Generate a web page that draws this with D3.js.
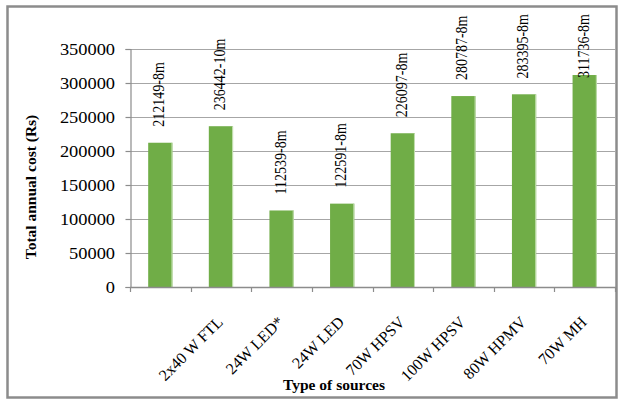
<!DOCTYPE html>
<html>
<head>
<meta charset="utf-8">
<script src="https://cdn.jsdelivr.net/npm/d3@7/dist/d3.min.js"></script>
<style>
  html, body { margin: 0; padding: 0; background: #fff; }
  svg { display: block; }
  text { font-family: "Liberation Serif", "Times New Roman", serif; fill: #000; }
</style>
</head>
<body>
<svg id="chart" width="619" height="400"></svg>
<script>
// Category names shown under the axis (first slot has no name)
const categories = ["", "2x40 W FTL", "24W LED*", "24W LED", "70W HPSV", "100W HPSV", "80W HPMV", "70W MH"];
// Total annual cost per source (Rs)
const costs = [212149, 236442, 112539, 122591, 226097, 280787, 283395, 311736];
// Label text written above each bar
const barLabels = ["212149-8m", "236442-10m", "112539-8m", "122591-8m", "226097-8m", "280787-8m", "283395-8m", "311736-8m"];
const yTicks = [0, 50000, 100000, 150000, 200000, 250000, 300000, 350000];

const svg = d3.select("#chart");
const plot = { left: 130, right: 615, top: 49, bottom: 287 };

// outer frame
svg.append("rect")
  .attr("x", 7.5).attr("y", 6.5).attr("width", 609).attr("height", 391)
  .attr("fill", "#fff").attr("stroke", "#8c8c8c").attr("stroke-width", 2.5);

const x = d3.scaleBand().domain(d3.range(costs.length))
  .range([plot.left, plot.right]).paddingInner(0.6).paddingOuter(0.3);
const xb = d3.scaleBand().domain(d3.range(costs.length)).range([plot.left, plot.right]);
const y = d3.scaleLinear().domain([0, 350000]).range([plot.bottom, plot.top]);

// horizontal gridlines
svg.append("g").selectAll("line").data(yTicks.slice(1)).join("line")
  .attr("x1", plot.left).attr("x2", plot.right)
  .attr("y1", d => Math.round(y(d)) + 0.5).attr("y2", d => Math.round(y(d)) + 0.5)
  .attr("stroke", "#a6a6a6").attr("stroke-width", 1.2);

// y axis
const yAxis = svg.append("g").attr("transform", `translate(${plot.left + 0.5},0)`)
  .call(d3.axisLeft(y).tickValues(yTicks).tickSize(5).tickPadding(10).tickFormat(d3.format("d")));
yAxis.select(".domain").attr("stroke", "#8c8c8c").attr("stroke-width", 1.2);
yAxis.selectAll(".tick line").attr("stroke", "#8c8c8c").attr("stroke-width", 1.2);
yAxis.selectAll(".tick text").attr("font-size", 16).attr("font-family", "Liberation Serif")
  .attr("transform", "scale(1.15,1)").attr("x", -12 / 1.15 - 3);

// bars with a light right edge
const bars = svg.append("g");
bars.selectAll("rect").data(costs).join("rect")
  .attr("x", (d, i) => x(i)).attr("width", x.bandwidth())
  .attr("y", d => y(d)).attr("height", d => y(0) - y(d))
  .attr("fill", "#70ad47");
bars.selectAll("line").data(costs).join("line")
  .attr("x1", (d, i) => x(i) + x.bandwidth() - 0.5).attr("x2", (d, i) => x(i) + x.bandwidth() - 0.5)
  .attr("y1", d => y(d)).attr("y2", y(0))
  .attr("stroke", "#c5e0b3").attr("stroke-width", 1);

// x axis line and boundary ticks
const xAxisG = svg.append("g");
xAxisG.append("line").attr("x1", plot.left).attr("x2", plot.right + 1)
  .attr("y1", plot.bottom + 0.5).attr("y2", plot.bottom + 0.5)
  .attr("stroke", "#8c8c8c").attr("stroke-width", 1.4);
xAxisG.selectAll("line.tk").data(d3.range(costs.length + 1)).join("line").attr("class", "tk")
  .attr("x1", i => Math.round(plot.left + i * xb.bandwidth()) + 0.5)
  .attr("x2", i => Math.round(plot.left + i * xb.bandwidth()) + 0.5)
  .attr("y1", plot.bottom).attr("y2", plot.bottom + 5)
  .attr("stroke", "#8c8c8c").attr("stroke-width", 1.2);

// category labels, rotated
svg.append("g").selectAll("text").data(categories).join("text")
  .attr("transform", (d, i) => `translate(${xb(i) + xb.bandwidth() / 2 + 3},${plot.bottom + 36}) rotate(-45)`)
  .attr("text-anchor", "end").attr("font-size", 16).text(d => d);

// value labels above bars; kept inside the frame near the top
const minTop = 14;
svg.append("g").selectAll("text").data(costs).join("text")
  .attr("font-size", 14).attr("text-anchor", "start")
  .text((d, i) => barLabels[i])
  .attr("transform", function (d, i) {
    const len = this.getComputedTextLength();
    const base = Math.max(y(d) - 16, minTop + len);
    return `translate(${x(i) + x.bandwidth() / 2 + 4},${base}) rotate(-90) scale(1,1.15)`;
  });

// axis titles
svg.append("text").attr("transform", "translate(36,187) rotate(-90)")
  .attr("text-anchor", "middle").attr("font-size", 15.5).attr("font-weight", "bold")
  .text("Total annual cost (Rs)");
svg.append("text").attr("x", 334).attr("y", 390)
  .attr("text-anchor", "middle").attr("font-size", 15.5).attr("font-weight", "bold")
  .text("Type of sources");
</script>
</body>
</html>
